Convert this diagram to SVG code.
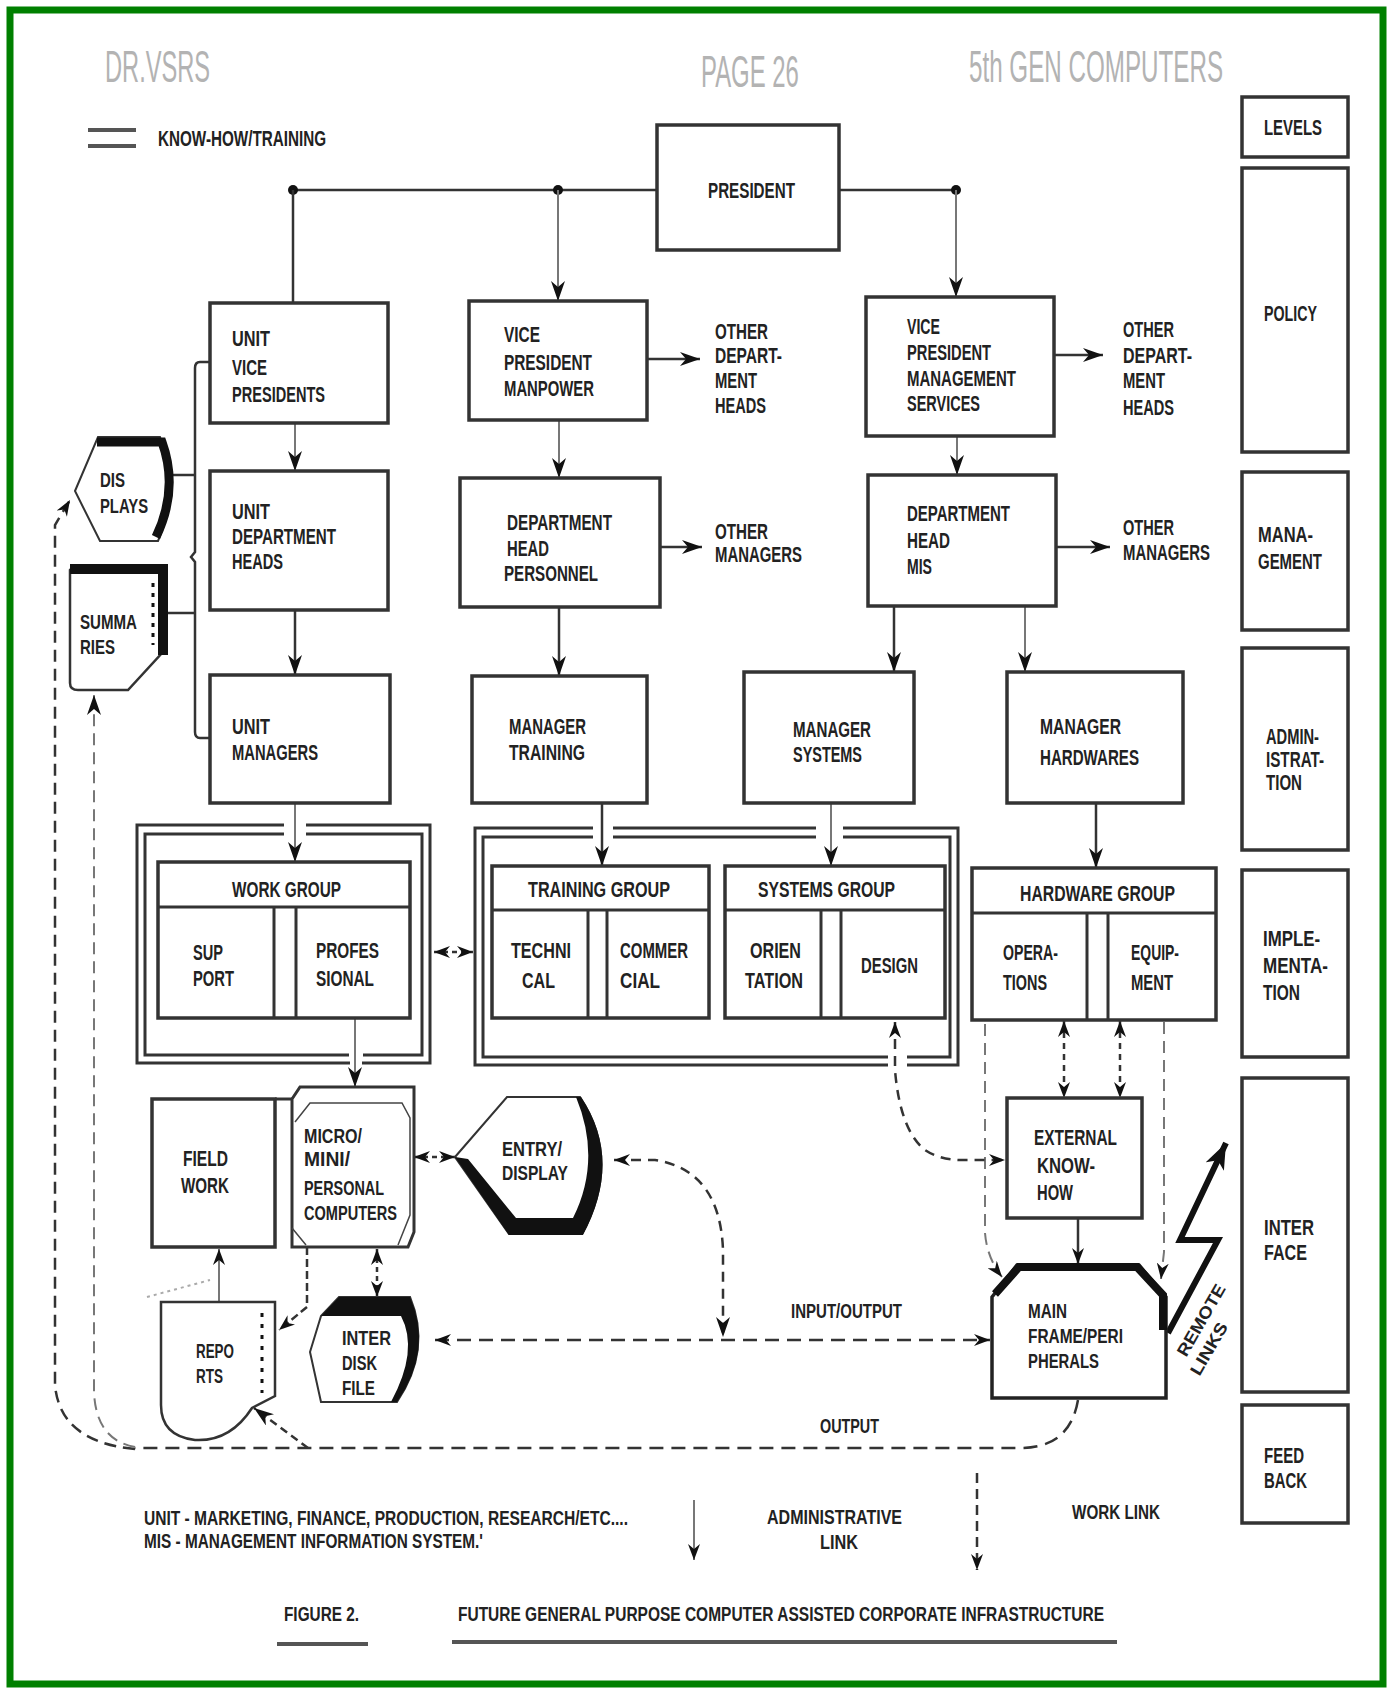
<svg xmlns="http://www.w3.org/2000/svg" width="1390" height="1694" viewBox="0 0 1390 1694">
<style>
.bx{fill:#fff;stroke:#333;stroke-width:3.5}
.bt{fill:none;stroke:#333;stroke-width:3}
.t{font-family:"Liberation Sans",Arial,sans-serif;font-weight:bold;font-size:22px;fill:#222}
.s{font-size:20px}
.h{font-family:"Liberation Sans",Arial,sans-serif;font-size:44px;fill:#b3b3b3}
.ln{fill:none;stroke:#333;stroke-width:2.5}
.lt{fill:none;stroke:#777;stroke-width:2}
.d{stroke-dasharray:12 7}
</style>
<defs>
<marker id="a" viewBox="0 0 20 14" refX="20" refY="7" markerWidth="20" markerHeight="14" markerUnits="userSpaceOnUse" orient="auto-start-reverse"><path d="M0,0 L20,7 L0,14 L6,7 Z" fill="#111"/></marker>
<marker id="m" viewBox="0 0 16 12" refX="16" refY="6" markerWidth="16" markerHeight="12" markerUnits="userSpaceOnUse" orient="auto-start-reverse"><path d="M0,0 L16,6 L0,12 L5,6 Z" fill="#111"/></marker>
<marker id="b" viewBox="0 0 26 20" refX="26" refY="10" markerWidth="26" markerHeight="20" markerUnits="userSpaceOnUse" orient="auto"><path d="M0,0 L26,10 L0,20 L7,10 Z" fill="#111"/></marker>
</defs>
<rect x="10" y="10" width="1373" height="1674" fill="#fff" stroke="#008000" stroke-width="7"/>

<g id="header">
<text class="h" transform="translate(105,82) scale(0.536,1)" x="0" y="0" textLength="196" lengthAdjust="spacingAndGlyphs">DR.VSRS</text>
<text class="h" transform="translate(701,87) scale(0.535,1)" x="0" y="0" textLength="183" lengthAdjust="spacingAndGlyphs">PAGE 26</text>
<text class="h" transform="translate(969,82) scale(0.55,1)" x="0" y="0" textLength="462" lengthAdjust="spacingAndGlyphs">5th GEN COMPUTERS</text>
</g>
<g id="legend-top">
<line x1="88" y1="130" x2="136" y2="130" stroke="#555" stroke-width="4"/>
<line x1="88" y1="146" x2="136" y2="146" stroke="#555" stroke-width="4"/>
<text class="t" x="158" y="146" textLength="168" lengthAdjust="spacingAndGlyphs">KNOW-HOW/TRAINING</text>
</g>

<g id="connectors">
<line class="ln" x1="657" y1="190" x2="293" y2="190" stroke-width="3"/>
<line class="ln" x1="839" y1="190" x2="956" y2="190" stroke-width="3"/>
<circle cx="293" cy="190" r="5" fill="#111"/><circle cx="558" cy="190" r="5" fill="#111"/><circle cx="956" cy="190" r="5" fill="#111"/>
<line class="ln" x1="293" y1="190" x2="293" y2="303"/>
<line class="lt" x1="558" y1="190" x2="558" y2="301" marker-end="url(#a)"/>
<line class="lt" x1="956" y1="190" x2="956" y2="297" marker-end="url(#a)"/>
<line class="lt" x1="295" y1="423" x2="295" y2="471" marker-end="url(#a)"/>
<line class="ln" x1="295" y1="610" x2="295" y2="675" marker-end="url(#a)"/>
<line class="lt" x1="559" y1="420" x2="559" y2="478" marker-end="url(#a)"/>
<line class="ln" x1="559" y1="607" x2="559" y2="676" marker-end="url(#a)"/>
<line class="ln" x1="647" y1="359" x2="700" y2="359" marker-end="url(#a)"/>
<line class="ln" x1="660" y1="547" x2="702" y2="547" marker-end="url(#a)"/>
<line class="lt" x1="957" y1="436" x2="957" y2="475" marker-end="url(#a)"/>
<line class="ln" x1="1054" y1="355" x2="1103" y2="355" marker-end="url(#a)"/>
<line class="ln" x1="1056" y1="547" x2="1110" y2="547" marker-end="url(#a)"/>
<line class="ln" x1="894" y1="606" x2="894" y2="672" marker-end="url(#a)"/>
<line class="lt" x1="1025" y1="606" x2="1025" y2="672" marker-end="url(#a)"/>
<path class="ln" d="M210,362 H200 Q195,362 195,368 V552 L191,557 L195,562 V732 Q195,738 200,738 H210" stroke-width="2"/>
<line class="ln" x1="173" y1="475" x2="195" y2="475" stroke-width="2"/>
<line class="ln" x1="165" y1="613" x2="195" y2="613" stroke-width="2"/>
<line class="lt" x1="295" y1="803" x2="295" y2="862" marker-end="url(#a)"/>
<line class="ln" x1="602" y1="803" x2="602" y2="866" marker-end="url(#a)"/>
<line class="lt" x1="831" y1="803" x2="831" y2="866" marker-end="url(#a)"/>
<line class="ln" x1="1096" y1="803" x2="1096" y2="868" marker-end="url(#a)"/>
<line class="lt" x1="355" y1="1018" x2="355" y2="1087" marker-end="url(#a)"/>
<line class="ln" x1="434" y1="952" x2="473" y2="952" stroke-dasharray="5 4" marker-start="url(#m)" marker-end="url(#m)"/>
<line class="ln" x1="1064" y1="1021" x2="1064" y2="1098" stroke-dasharray="6 5" marker-start="url(#m)" marker-end="url(#m)"/>
<line class="ln" x1="1120" y1="1021" x2="1120" y2="1098" stroke-dasharray="6 5" marker-start="url(#m)" marker-end="url(#m)"/>
<line class="ln" x1="1078" y1="1218" x2="1078" y2="1264" marker-end="url(#m)"/>
<path class="lt d" d="M985,1024 V1233 Q987,1258 1002,1277" stroke="#555" marker-end="url(#m)"/>
<path class="lt d" d="M1164,1022 V1252 L1161,1279" stroke="#555" marker-end="url(#m)"/>
<path class="ln" d="M895,1022 V1070 Q900,1130 925,1150 Q940,1160 962,1160 H1005" stroke-dasharray="10 7" marker-start="url(#m)" marker-end="url(#m)"/>
<line class="ln" x1="414" y1="1157" x2="455" y2="1157" stroke-dasharray="5 4" marker-start="url(#m)" marker-end="url(#m)"/>
<path class="ln" d="M614,1160 H655 Q720,1170 723,1250 V1337" stroke-dasharray="10 7" marker-start="url(#m)" marker-end="url(#a)"/>
<line class="ln" x1="435" y1="1340" x2="990" y2="1340" stroke-width="3" stroke-dasharray="14 8" marker-start="url(#m)" marker-end="url(#m)"/>
<line class="lt" x1="219" y1="1302" x2="219" y2="1249" marker-end="url(#m)"/>
<line x1="147" y1="1297" x2="210" y2="1280" stroke="#aaa" stroke-width="2" stroke-dasharray="3 4"/>
<path class="ln" d="M307,1247 V1307 L279,1330" stroke-width="2" stroke-dasharray="8 4" marker-end="url(#m)"/>
<line class="ln" x1="377" y1="1249" x2="377" y2="1297" stroke-dasharray="5 4" marker-start="url(#m)" marker-end="url(#m)"/>
<path class="ln" d="M1078,1400 Q1070,1448 1020,1448 H135" stroke-width="3" stroke-dasharray="14 8"/>
<path class="ln" d="M135,1449 Q60,1442 55,1385 V525 L70,500" stroke-width="2" stroke-dasharray="12 7" marker-end="url(#m)"/>
<path class="lt d" d="M135,1447 Q96,1440 94,1392 V695" stroke="#666" marker-end="url(#a)"/>
<line class="ln" x1="308" y1="1448" x2="254" y2="1408" stroke-width="2" stroke-dasharray="8 5" marker-end="url(#a)"/>
<path d="M1168,1333 L1218,1240 L1180,1240 L1226,1143" fill="none" stroke="#111" stroke-width="6" stroke-linejoin="miter" marker-end="url(#b)"/>
</g>

<g id="president"><rect class="bx" x="657" y="125" width="182" height="125"/><text class="t" x="708" y="198" textLength="87" lengthAdjust="spacingAndGlyphs">PRESIDENT</text></g>

<g id="unit-vp"><rect class="bx" x="210" y="303" width="178" height="120"/>
<text class="t" x="232" y="346" textLength="38" lengthAdjust="spacingAndGlyphs">UNIT</text>
<text class="t" x="232" y="375" textLength="35" lengthAdjust="spacingAndGlyphs">VICE</text>
<text class="t" x="232" y="402" textLength="93" lengthAdjust="spacingAndGlyphs">PRESIDENTS</text></g>
<g id="unit-dept-heads"><rect class="bx" x="210" y="471" width="178" height="139"/>
<text class="t" x="232" y="519" textLength="38" lengthAdjust="spacingAndGlyphs">UNIT</text>
<text class="t" x="232" y="544" textLength="104" lengthAdjust="spacingAndGlyphs">DEPARTMENT</text>
<text class="t" x="232" y="569" textLength="51" lengthAdjust="spacingAndGlyphs">HEADS</text></g>
<g id="unit-managers"><rect class="bx" x="210" y="675" width="180" height="128"/>
<text class="t" x="232" y="734" textLength="38" lengthAdjust="spacingAndGlyphs">UNIT</text>
<text class="t" x="232" y="760" textLength="86" lengthAdjust="spacingAndGlyphs">MANAGERS</text></g>

<g id="displays">
<path d="M75,491 L98,437 H160 Q180,489 158,541 H100 Z" fill="#fff" stroke="#333" stroke-width="2"/>
<path d="M97,442 H162 Q179,489 156,537" fill="none" stroke="#111" stroke-width="9"/>
<text class="t s" x="100" y="487" textLength="25" lengthAdjust="spacingAndGlyphs">DIS</text>
<text class="t s" x="100" y="513" textLength="48" lengthAdjust="spacingAndGlyphs">PLAYS</text></g>
<g id="summaries">
<path d="M70,570 V683 Q70,690 78,690 H128 L162,653 V567 H73 Z" fill="#fff" stroke="#333" stroke-width="2.5"/>
<path d="M70,569 H163 V655" fill="none" stroke="#111" stroke-width="10"/>
<line x1="153" y1="583" x2="153" y2="645" stroke="#111" stroke-width="3" stroke-dasharray="4 6"/>
<text class="t s" x="80" y="629" textLength="57" lengthAdjust="spacingAndGlyphs">SUMMA</text>
<text class="t s" x="80" y="654" textLength="35" lengthAdjust="spacingAndGlyphs">RIES</text></g>

<g id="vp-manpower"><rect class="bx" x="469" y="301" width="178" height="119"/>
<text class="t" x="504" y="342" textLength="36" lengthAdjust="spacingAndGlyphs">VICE</text>
<text class="t" x="504" y="370" textLength="88" lengthAdjust="spacingAndGlyphs">PRESIDENT</text>
<text class="t" x="504" y="396" textLength="90" lengthAdjust="spacingAndGlyphs">MANPOWER</text></g>
<g id="other-dept-heads-1">
<text class="t" x="715" y="339" textLength="53" lengthAdjust="spacingAndGlyphs">OTHER</text>
<text class="t" x="715" y="363" textLength="67" lengthAdjust="spacingAndGlyphs">DEPART-</text>
<text class="t" x="715" y="388" textLength="42" lengthAdjust="spacingAndGlyphs">MENT</text>
<text class="t" x="715" y="413" textLength="51" lengthAdjust="spacingAndGlyphs">HEADS</text></g>
<g id="dept-head-personnel"><rect class="bx" x="460" y="478" width="200" height="129"/>
<text class="t" x="507" y="530" textLength="105" lengthAdjust="spacingAndGlyphs">DEPARTMENT</text>
<text class="t" x="507" y="556" textLength="42" lengthAdjust="spacingAndGlyphs">HEAD</text>
<text class="t" x="504" y="581" textLength="94" lengthAdjust="spacingAndGlyphs">PERSONNEL</text></g>
<g id="other-managers-1">
<text class="t" x="715" y="539" textLength="53" lengthAdjust="spacingAndGlyphs">OTHER</text>
<text class="t" x="715" y="562" textLength="87" lengthAdjust="spacingAndGlyphs">MANAGERS</text></g>
<g id="manager-training"><rect class="bx" x="472" y="676" width="175" height="127"/>
<text class="t" x="509" y="734" textLength="77" lengthAdjust="spacingAndGlyphs">MANAGER</text>
<text class="t" x="509" y="760" textLength="76" lengthAdjust="spacingAndGlyphs">TRAINING</text></g>

<g id="vp-management-services"><rect class="bx" x="866" y="297" width="188" height="139"/>
<text class="t" x="907" y="334" textLength="33" lengthAdjust="spacingAndGlyphs">VICE</text>
<text class="t" x="907" y="360" textLength="84" lengthAdjust="spacingAndGlyphs">PRESIDENT</text>
<text class="t" x="907" y="386" textLength="109" lengthAdjust="spacingAndGlyphs">MANAGEMENT</text>
<text class="t" x="907" y="411" textLength="73" lengthAdjust="spacingAndGlyphs">SERVICES</text></g>
<g id="other-dept-heads-2">
<text class="t" x="1123" y="337" textLength="51" lengthAdjust="spacingAndGlyphs">OTHER</text>
<text class="t" x="1123" y="363" textLength="69" lengthAdjust="spacingAndGlyphs">DEPART-</text>
<text class="t" x="1123" y="388" textLength="42" lengthAdjust="spacingAndGlyphs">MENT</text>
<text class="t" x="1123" y="415" textLength="51" lengthAdjust="spacingAndGlyphs">HEADS</text></g>
<g id="dept-head-mis"><rect class="bx" x="868" y="475" width="188" height="131"/>
<text class="t" x="907" y="521" textLength="103" lengthAdjust="spacingAndGlyphs">DEPARTMENT</text>
<text class="t" x="907" y="548" textLength="43" lengthAdjust="spacingAndGlyphs">HEAD</text>
<text class="t" x="907" y="574" textLength="25" lengthAdjust="spacingAndGlyphs">MIS</text></g>
<g id="other-managers-2">
<text class="t" x="1123" y="535" textLength="51" lengthAdjust="spacingAndGlyphs">OTHER</text>
<text class="t" x="1123" y="560" textLength="87" lengthAdjust="spacingAndGlyphs">MANAGERS</text></g>
<g id="manager-systems"><rect class="bx" x="744" y="672" width="170" height="131"/>
<text class="t" x="793" y="737" textLength="78" lengthAdjust="spacingAndGlyphs">MANAGER</text>
<text class="t" x="793" y="762" textLength="69" lengthAdjust="spacingAndGlyphs">SYSTEMS</text></g>
<g id="manager-hardwares"><rect class="bx" x="1007" y="672" width="176" height="131"/>
<text class="t" x="1040" y="734" textLength="81" lengthAdjust="spacingAndGlyphs">MANAGER</text>
<text class="t" x="1040" y="765" textLength="99" lengthAdjust="spacingAndGlyphs">HARDWARES</text></g>

<g id="levels"><rect class="bx" x="1242" y="97" width="106" height="60"/><text class="t" x="1264" y="135" textLength="58" lengthAdjust="spacingAndGlyphs">LEVELS</text></g>
<g id="policy"><rect class="bx" x="1242" y="168" width="106" height="284"/><text class="t" x="1264" y="321" textLength="53" lengthAdjust="spacingAndGlyphs">POLICY</text></g>
<g id="management"><rect class="bx" x="1242" y="472" width="106" height="158"/>
<text class="t" x="1258" y="542" textLength="55" lengthAdjust="spacingAndGlyphs">MANA-</text>
<text class="t" x="1258" y="569" textLength="64" lengthAdjust="spacingAndGlyphs">GEMENT</text></g>
<g id="administration"><rect class="bx" x="1242" y="648" width="106" height="202"/>
<text class="t" x="1266" y="744" textLength="53" lengthAdjust="spacingAndGlyphs">ADMIN-</text>
<text class="t" x="1266" y="767" textLength="58" lengthAdjust="spacingAndGlyphs">ISTRAT-</text>
<text class="t" x="1266" y="790" textLength="36" lengthAdjust="spacingAndGlyphs">TION</text></g>
<g id="implementation"><rect class="bx" x="1242" y="870" width="106" height="187"/>
<text class="t" x="1263" y="946" textLength="57" lengthAdjust="spacingAndGlyphs">IMPLE-</text>
<text class="t" x="1263" y="973" textLength="65" lengthAdjust="spacingAndGlyphs">MENTA-</text>
<text class="t" x="1263" y="1000" textLength="37" lengthAdjust="spacingAndGlyphs">TION</text></g>
<g id="interface"><rect class="bx" x="1242" y="1078" width="106" height="314"/>
<text class="t" x="1264" y="1235" textLength="50" lengthAdjust="spacingAndGlyphs">INTER</text>
<text class="t" x="1264" y="1260" textLength="43" lengthAdjust="spacingAndGlyphs">FACE</text></g>
<g id="feedback"><rect class="bx" x="1242" y="1405" width="106" height="118"/>
<text class="t" x="1264" y="1463" textLength="40" lengthAdjust="spacingAndGlyphs">FEED</text>
<text class="t" x="1264" y="1488" textLength="43" lengthAdjust="spacingAndGlyphs">BACK</text></g>

<g id="work-frame">
<path class="bt" d="M284,825 H137 V1063 H350 M362,1063 H430 V825 H306" stroke="#666" stroke-width="4"/>
<path class="bt" d="M284,834 H145 V1055 H349 M363,1055 H422 V834 H306" stroke-width="4" stroke="#222"/>
</g>
<g id="work-group"><rect class="bx" x="158" y="862" width="252" height="156"/>
<line class="bt" x1="158" y1="907" x2="410" y2="907"/><line class="bt" x1="274" y1="907" x2="274" y2="1018"/><line class="bt" x1="296" y1="907" x2="296" y2="1018"/>
<text class="t" x="232" y="897" textLength="109" lengthAdjust="spacingAndGlyphs">WORK GROUP</text>
<text class="t" x="193" y="960" textLength="30" lengthAdjust="spacingAndGlyphs">SUP</text>
<text class="t" x="193" y="986" textLength="41" lengthAdjust="spacingAndGlyphs">PORT</text>
<text class="t" x="316" y="958" textLength="63" lengthAdjust="spacingAndGlyphs">PROFES</text>
<text class="t" x="316" y="986" textLength="58" lengthAdjust="spacingAndGlyphs">SIONAL</text></g>

<g id="training-systems-frame">
<path class="bt" d="M593,828 H475 V1065 H888 M907,1065 H958 V828 H843 M816,828 H613" stroke="#666" stroke-width="4"/>
<path class="bt" d="M593,837 H483 V1057 H888 M907,1057 H950 V837 H843 M816,837 H613" stroke-width="4" stroke="#222"/>
</g>
<g id="training-group"><rect class="bx" x="492" y="866" width="217" height="152"/>
<line class="bt" x1="492" y1="910" x2="709" y2="910"/><line class="bt" x1="588" y1="910" x2="588" y2="1018"/><line class="bt" x1="607" y1="910" x2="607" y2="1018"/>
<text class="t" x="528" y="897" textLength="142" lengthAdjust="spacingAndGlyphs">TRAINING GROUP</text>
<text class="t" x="511" y="958" textLength="60" lengthAdjust="spacingAndGlyphs">TECHNI</text>
<text class="t" x="522" y="988" textLength="33" lengthAdjust="spacingAndGlyphs">CAL</text>
<text class="t" x="620" y="958" textLength="68" lengthAdjust="spacingAndGlyphs">COMMER</text>
<text class="t" x="620" y="988" textLength="40" lengthAdjust="spacingAndGlyphs">CIAL</text></g>
<g id="systems-group"><rect class="bx" x="725" y="866" width="220" height="152"/>
<line class="bt" x1="725" y1="910" x2="945" y2="910"/><line class="bt" x1="821" y1="910" x2="821" y2="1018"/><line class="bt" x1="841" y1="910" x2="841" y2="1018"/>
<text class="t" x="758" y="897" textLength="137" lengthAdjust="spacingAndGlyphs">SYSTEMS GROUP</text>
<text class="t" x="750" y="958" textLength="51" lengthAdjust="spacingAndGlyphs">ORIEN</text>
<text class="t" x="745" y="988" textLength="58" lengthAdjust="spacingAndGlyphs">TATION</text>
<text class="t" x="861" y="973" textLength="57" lengthAdjust="spacingAndGlyphs">DESIGN</text></g>

<g id="hardware-group"><rect class="bx" x="972" y="868" width="244" height="152"/>
<line class="bt" x1="972" y1="913" x2="1216" y2="913"/><line class="bt" x1="1087" y1="913" x2="1087" y2="1020"/><line class="bt" x1="1108" y1="913" x2="1108" y2="1020"/>
<text class="t" x="1020" y="901" textLength="155" lengthAdjust="spacingAndGlyphs">HARDWARE GROUP</text>
<text class="t" x="1003" y="960" textLength="55" lengthAdjust="spacingAndGlyphs">OPERA-</text>
<text class="t" x="1003" y="990" textLength="44" lengthAdjust="spacingAndGlyphs">TIONS</text>
<text class="t" x="1131" y="960" textLength="48" lengthAdjust="spacingAndGlyphs">EQUIP-</text>
<text class="t" x="1131" y="990" textLength="42" lengthAdjust="spacingAndGlyphs">MENT</text></g>

<g id="external-know-how"><rect class="bx" x="1007" y="1098" width="135" height="120"/>
<text class="t" x="1034" y="1145" textLength="83" lengthAdjust="spacingAndGlyphs">EXTERNAL</text>
<text class="t" x="1037" y="1173" textLength="58" lengthAdjust="spacingAndGlyphs">KNOW-</text>
<text class="t" x="1037" y="1200" textLength="36" lengthAdjust="spacingAndGlyphs">HOW</text></g>

<g id="main-frame">
<path d="M992,1297 L1017,1265 H1139 L1166,1297 V1398 H992 Z" fill="#fff" stroke="#222" stroke-width="3.5"/>
<path d="M995,1294 L1019,1267 H1137 L1163,1295 V1330" fill="none" stroke="#111" stroke-width="8"/>
<text class="t s" x="1028" y="1318" textLength="39" lengthAdjust="spacingAndGlyphs">MAIN</text>
<text class="t s" x="1028" y="1343" textLength="95" lengthAdjust="spacingAndGlyphs">FRAME/PERI</text>
<text class="t s" x="1028" y="1368" textLength="71" lengthAdjust="spacingAndGlyphs">PHERALS</text></g>
<g id="remote-links" transform="translate(1201,1320) rotate(-60)">
<text class="t" style="font-size:17px" x="-40" y="6" textLength="80" lengthAdjust="spacingAndGlyphs">REMOTE</text>
<text class="t" style="font-size:17px" x="-50" y="27" textLength="58" lengthAdjust="spacingAndGlyphs">LINKS</text></g>

<g id="field-work"><rect class="bx" x="152" y="1099" width="123" height="148"/>
<line x1="275" y1="1099" x2="292" y2="1099" stroke="#333" stroke-width="3"/>
<text class="t" x="183" y="1166" textLength="45" lengthAdjust="spacingAndGlyphs">FIELD</text>
<text class="t" x="181" y="1193" textLength="48" lengthAdjust="spacingAndGlyphs">WORK</text></g>
<g id="micro-computers">
<path d="M292,1099 L300,1087 H414 V1232 L408,1247 H292 Z" fill="#fff" stroke="#333" stroke-width="3"/>
<path d="M295,1122 L310,1103 H402 L410,1118 V1215 L398,1245 M292,1228 L306,1245" fill="none" stroke="#444" stroke-width="1.5"/>
<text class="t s" x="304" y="1143" textLength="58" lengthAdjust="spacingAndGlyphs">MICRO/</text>
<text class="t s" x="304" y="1166" textLength="46" lengthAdjust="spacingAndGlyphs">MINI/</text>
<text class="t s" x="304" y="1195" textLength="80" lengthAdjust="spacingAndGlyphs">PERSONAL</text>
<text class="t s" x="304" y="1220" textLength="93" lengthAdjust="spacingAndGlyphs">COMPUTERS</text></g>
<g id="entry-display">
<path d="M455,1157 L507,1097 H580 Q622,1160 582,1234 H509 Z" fill="#fff" stroke="#333" stroke-width="2"/>
<path d="M576,1097 H581 Q623,1160 583,1235 H509 L455,1157 L468,1159 L516,1218 H573 Q602,1160 576,1097 Z" fill="#111"/>
<text class="t s" x="502" y="1156" textLength="60" lengthAdjust="spacingAndGlyphs">ENTRY/</text>
<text class="t s" x="502" y="1180" textLength="66" lengthAdjust="spacingAndGlyphs">DISPLAY</text></g>
<g id="reports">
<path d="M161,1302 H275 V1396 L252,1408 Q230,1442 195,1440 Q161,1436 161,1405 Z" fill="#fff" stroke="#333" stroke-width="2.5"/>
<line x1="262" y1="1313" x2="262" y2="1393" stroke="#111" stroke-width="3" stroke-dasharray="4 7"/>
<text class="t s" x="196" y="1358" textLength="38" lengthAdjust="spacingAndGlyphs">REPO</text>
<text class="t s" x="196" y="1383" textLength="27" lengthAdjust="spacingAndGlyphs">RTS</text></g>
<g id="inter-disk-file">
<path d="M321,1316 L310,1352 L321,1402 H397 Q432,1350 410,1297 H339 Z" fill="#fff" stroke="#333" stroke-width="2"/>
<path d="M339,1297 H410 Q433,1350 397,1402 H391 Q419,1350 401,1316 H321 Z" fill="#111"/>
<text class="t s" x="342" y="1345" textLength="49" lengthAdjust="spacingAndGlyphs">INTER</text>
<text class="t s" x="342" y="1370" textLength="35" lengthAdjust="spacingAndGlyphs">DISK</text>
<text class="t s" x="342" y="1395" textLength="33" lengthAdjust="spacingAndGlyphs">FILE</text></g>

<g id="connector-labels">
<text class="t s" x="791" y="1318" textLength="111" lengthAdjust="spacingAndGlyphs">INPUT/OUTPUT</text>
<text class="t s" x="820" y="1433" textLength="59" lengthAdjust="spacingAndGlyphs">OUTPUT</text>
</g>

<g id="legend-bottom">
<text class="t s" x="144" y="1525" textLength="484" lengthAdjust="spacingAndGlyphs">UNIT - MARKETING, FINANCE, PRODUCTION, RESEARCH/ETC....</text>
<text class="t s" x="144" y="1548" textLength="339" lengthAdjust="spacingAndGlyphs">MIS - MANAGEMENT INFORMATION SYSTEM.'</text>
<line class="lt" x1="694" y1="1500" x2="694" y2="1560" stroke="#999" stroke-width="1.5" marker-end="url(#m)"/>
<text class="t s" x="767" y="1524" textLength="135" lengthAdjust="spacingAndGlyphs">ADMINISTRATIVE</text>
<text class="t s" x="820" y="1549" textLength="38" lengthAdjust="spacingAndGlyphs">LINK</text>
<line class="ln" x1="977" y1="1473" x2="977" y2="1570" stroke-width="1.5" stroke-dasharray="10 6" marker-end="url(#m)"/>
<text class="t s" x="1072" y="1519" textLength="88" lengthAdjust="spacingAndGlyphs">WORK LINK</text>
<text class="t s" x="284" y="1621" textLength="75" lengthAdjust="spacingAndGlyphs">FIGURE 2.</text>
<text class="t s" x="458" y="1621" textLength="646" lengthAdjust="spacingAndGlyphs">FUTURE GENERAL PURPOSE  COMPUTER ASSISTED CORPORATE  INFRASTRUCTURE</text>
<line x1="277" y1="1644" x2="368" y2="1644" stroke="#555" stroke-width="4"/>
<line x1="452" y1="1642" x2="1117" y2="1642" stroke="#555" stroke-width="4"/>
</g>
</svg>
